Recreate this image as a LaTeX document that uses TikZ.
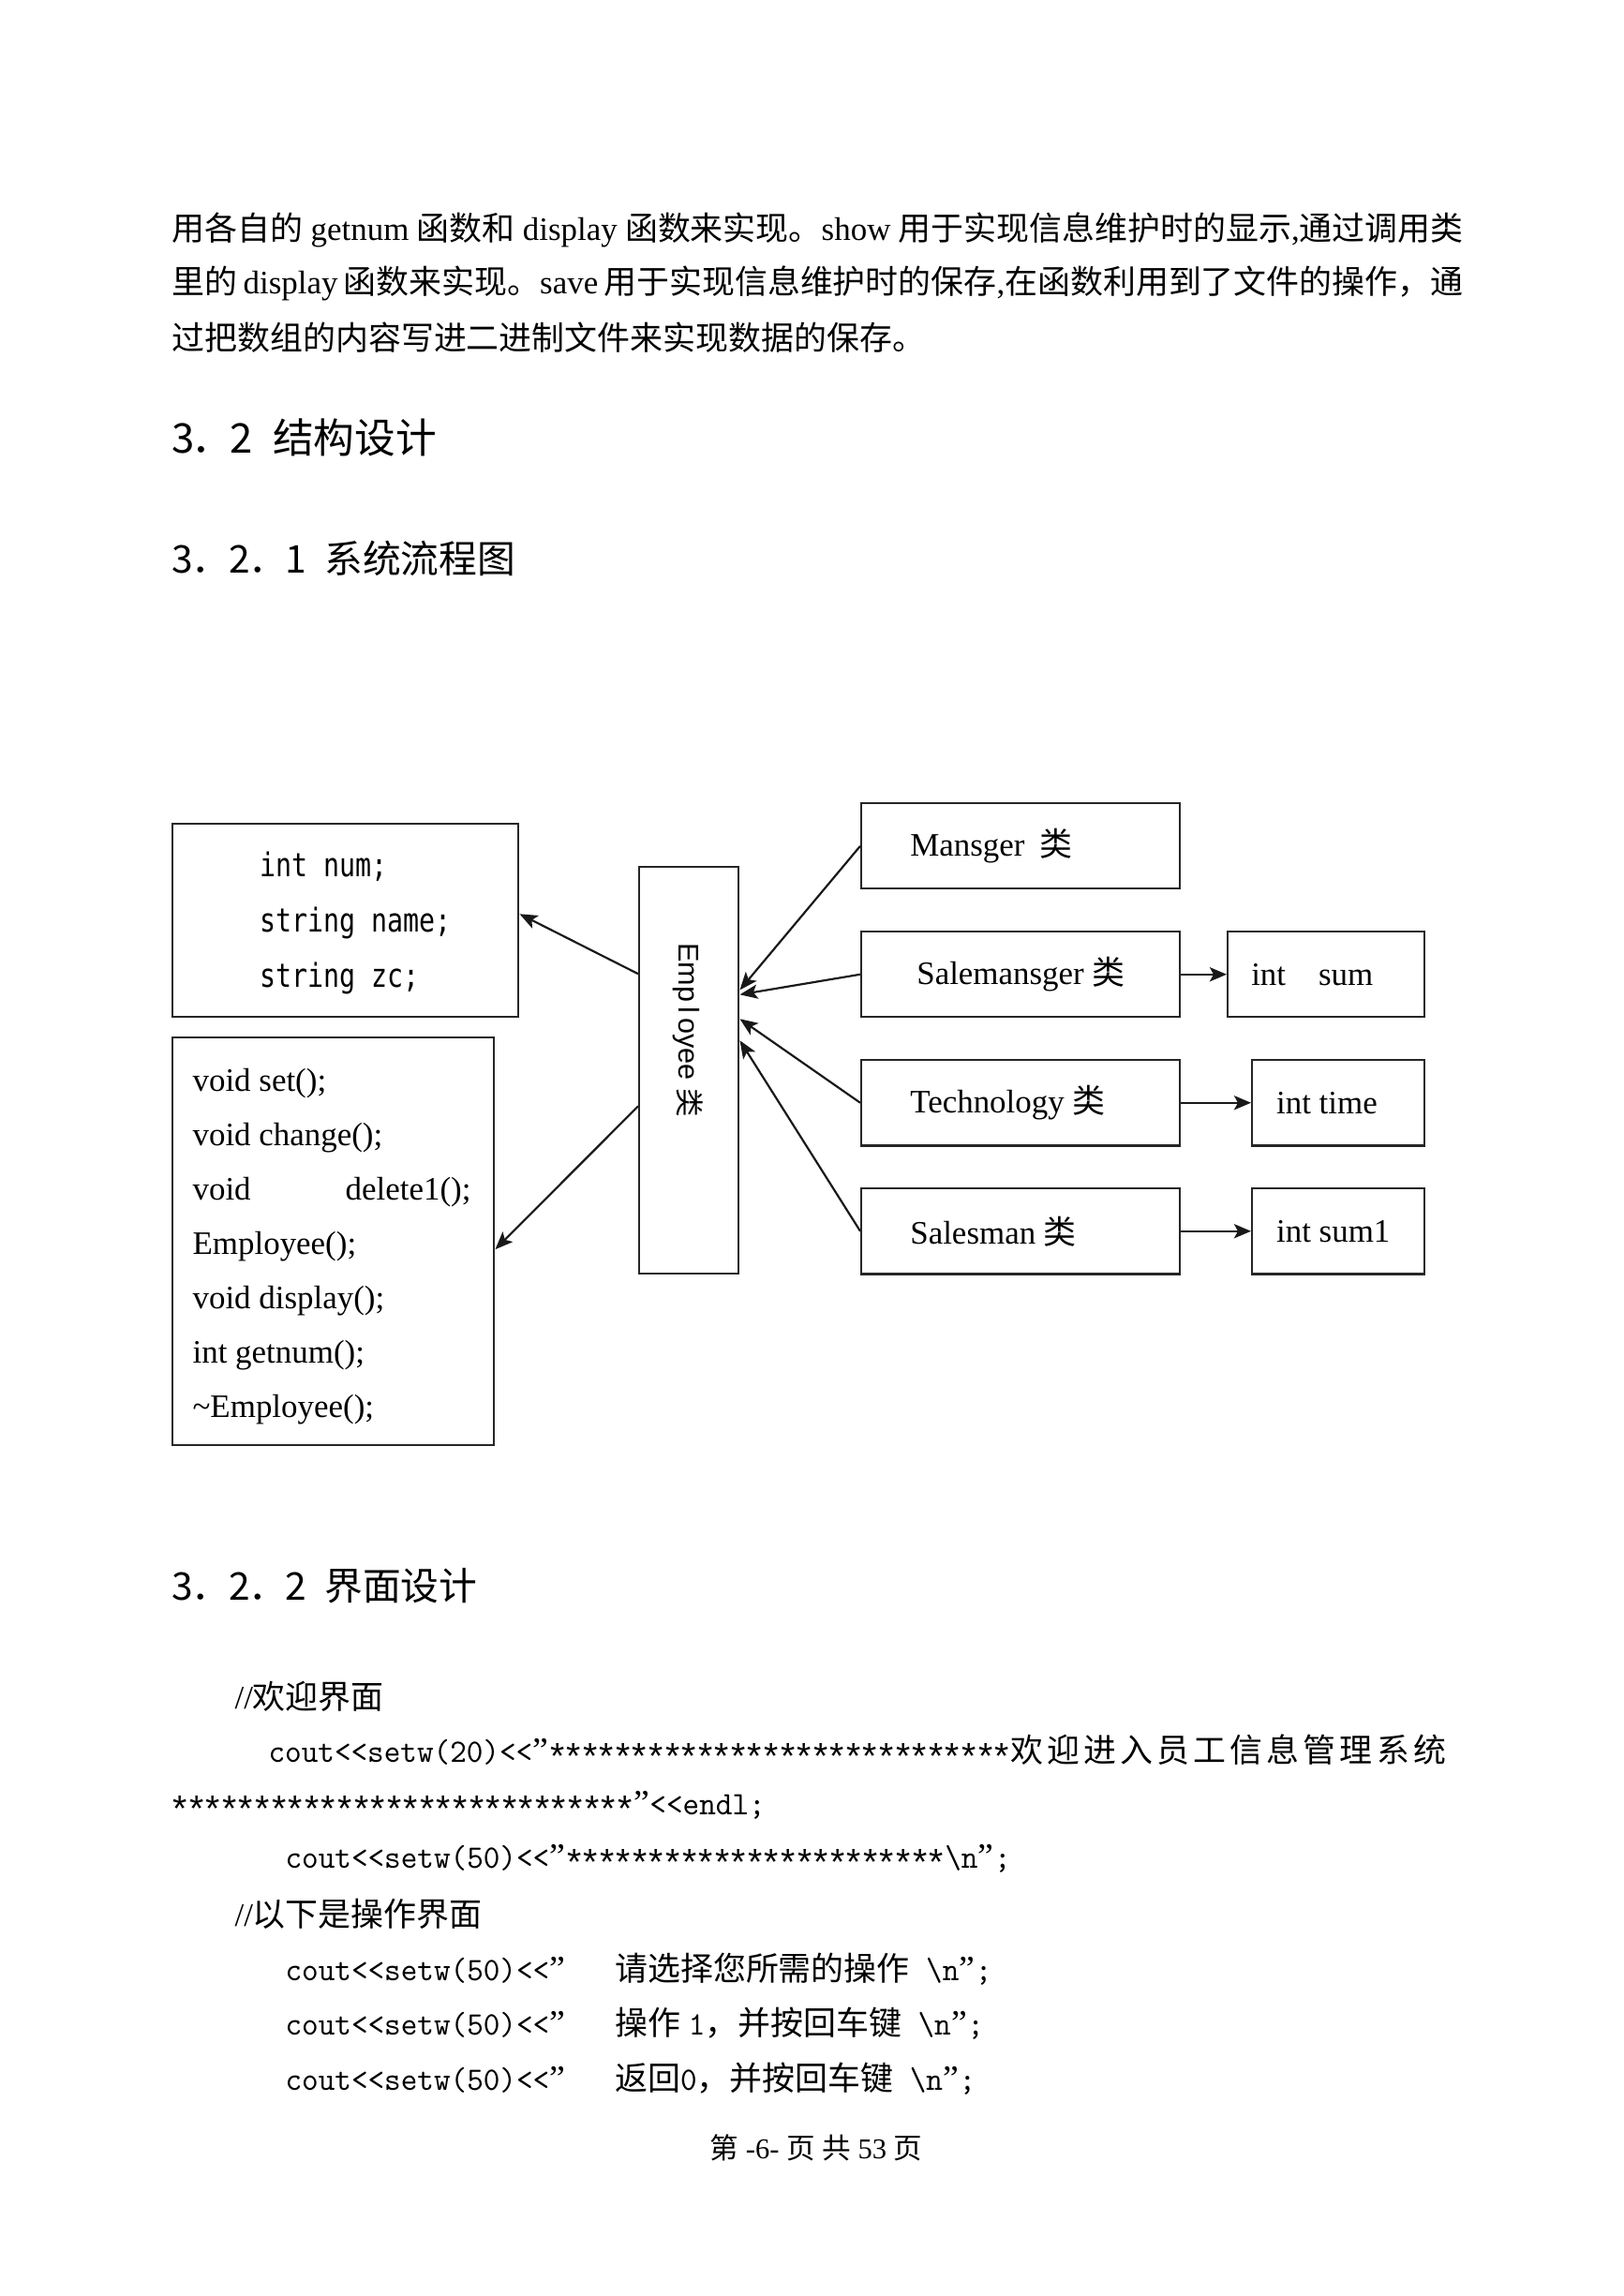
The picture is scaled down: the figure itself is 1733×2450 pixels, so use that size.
\documentclass[tikz,border=0pt]{standalone}
\usepackage{fontspec}
\setmainfont{Liberation Serif}
\newfontfamily\cjk{Noto Sans CJK SC}
\newfontfamily\codef[Extension=.otf,FakeStretch=0.96]{lmmono10-regular}
\newfontfamily\boxmono[FakeStretch=0.81]{DejaVu Sans Mono}
\newfontfamily\sansf{Liberation Sans}
\usetikzlibrary{arrows.meta}
\XeTeXlinebreaklocale "zh"
\XeTeXlinebreakskip=0pt plus 1pt
\newcommand\zh[1]{{\cjk #1}}
\newcommand\dlt{<\kern0pt<}
\newcommand\dq{\makebox[6.04pt][c]{\rmfamily\fontsize{13pt}{13pt}\selectfont ”}}
\newcommand\st{\makebox[6.04pt]{\raisebox{-2.4pt}{\sansf\fontsize{13.5pt}{13.5pt}\selectfont *}}}
\newcommand\stars[1]{\foreach\i in {1,...,#1}{\st}}
\begin{document}
\begin{tikzpicture}[x=0.3435pt,y=-0.3435pt,
  box/.style={draw=black!85, line width=0.85pt, inner sep=0pt, anchor=north west},
  txt/.style={inner sep=0pt, anchor=west, font=\fontsize{12pt}{14pt}\selectfont},
  code/.style={inner sep=0pt, anchor=west, font=\codef\fontsize{12pt}{14pt}\selectfont},
  head/.style={inner sep=0pt, anchor=west},
  arr/.style={draw=black!90, line width=0.75pt, -{Stealth[length=6.5pt,width=5.2pt,inset=1.5pt]}},
  rarr/.style={draw=black!90, line width=0.85pt, -{Stealth[length=6.2pt,width=5.2pt,inset=1.4pt]}}]
\fill[white] (0,0) rectangle (1733,2450);
\useasboundingbox (0,0) rectangle (1733,2450);

% paragraph
\node[txt] (p1) at (183,245) {\makebox[473.3pt][s]{\zh{用各自的} getnum \zh{函数和} display \zh{函数来实现。}show \zh{用于实现信息维护时的显示},\zh{通过调用类}}};
\node[txt] (p2) at (183,302) {\makebox[473.3pt][s]{\zh{里的} display \zh{函数来实现。}save \zh{用于实现信息维护时的保存},\zh{在函数利用到了文件的操作，通}}};
\node[txt] (p3) at (183,360) {\zh{过把数组的内容写进二进制文件来实现数据的保存。}};

% headings
\node[head] (h1) at (183,467) {\cjk\fontsize{15pt}{18pt}\selectfont 3\kern-1pt．\kern-1pt2\hspace{4pt} 结构设计};
\node[head] (h2) at (183,596) {\cjk\fontsize{14pt}{17pt}\selectfont 3\kern-0.5pt．\kern-0.5pt2\kern-0.5pt．\kern-0.5pt1\hspace{3.5pt} 系统流程图};
\node[head] (h3) at (183,1692) {\cjk\fontsize{14pt}{17pt}\selectfont 3\kern-0.5pt．\kern-0.5pt2\kern-0.5pt．\kern-0.5pt2\hspace{3.5pt} 界面设计};

% diagram boxes
\node[box, minimum width=126.75pt, minimum height=70.76pt] (A) at (183,878) {};
\node[txt, align=left, font=\boxmono\fontsize{12pt}{20.4pt}\selectfont] (Atext) at (277,985) {int num;\\string name;\\string zc;};

\node[box, minimum width=117.82pt, minimum height=149.42pt] (B) at (183,1106) {};
\node[txt, align=left, font=\fontsize{12pt}{19.9pt}\selectfont] (Btext) at (205,1330) {void set();\\void change();\\\makebox[102pt][s]{void\hfill delete1();}\\Employee();\\void display();\\int getnum();\\\textasciitilde Employee();};

\node[box, minimum width=36.41pt, minimum height=149.08pt] (emp) at (681,924) {};
\node[inner sep=0pt, rotate=-90, font=\sansf\fontsize{10.5pt}{12pt}\selectfont] (emptext) at (734,1099) {Emp\hspace{1.8pt}l\hspace{1.8pt}oyee \zh{类}};

\node[box, minimum width=116.79pt, minimum height=31.26pt, font=\fontsize{12pt}{14pt}\selectfont] (man) at (918,856) {\makebox[116.79pt][l]{\hspace*{17.9pt}Mansger\hspace{5.5pt}\zh{类}}};
\node[box, minimum width=116.79pt, minimum height=31.26pt, font=\fontsize{12pt}{14pt}\selectfont] (sm) at (918,993) {\makebox[116.79pt][l]{\hspace*{20.3pt}Salemansger \zh{类}}};
\node[box, minimum width=116.79pt, minimum height=31.26pt, font=\fontsize{12pt}{14pt}\selectfont] (tech) at (918,1130) {\makebox[116.79pt][l]{\hspace*{17.9pt}Technology \zh{类}}};
\node[box, minimum width=116.79pt, minimum height=31.26pt, font=\fontsize{12pt}{14pt}\selectfont] (sales) at (918,1267) {\makebox[116.79pt][l]{\hspace*{17.9pt}Salesman \zh{类}}};

\node[box, minimum width=72.14pt, minimum height=31.26pt, font=\fontsize{12pt}{14pt}\selectfont] (isum) at (1309,993) {\makebox[72.14pt][l]{\hspace*{8.6pt}int\hspace{12pt}sum}};
\node[box, minimum width=63.2pt, minimum height=31.26pt, font=\fontsize{12pt}{14pt}\selectfont] (itime) at (1335,1130) {\makebox[63.2pt][l]{\hspace*{8.9pt}int time}};
\node[box, minimum width=63.2pt, minimum height=31.26pt, font=\fontsize{12pt}{14pt}\selectfont] (isum1) at (1335,1267) {\makebox[63.2pt][l]{\hspace*{8.9pt}int sum1}};

% connectors
\draw[arr] ([yshift=35.4pt]emp.west) -- ([yshift=2.4pt]A.east);
\draw[arr] ([yshift=-13.1pt]emp.west) -- ([yshift=-2.9pt]B.east);
\draw[arr] (man.west) -- ([yshift=29.5pt]emp.east);
\draw[arr] (sm.west) -- ([yshift=27.8pt]emp.east);
\draw[arr] (tech.west) -- ([yshift=18.9pt]emp.east);
\draw[arr] (sales.west) -- ([yshift=11pt]emp.east);
\draw[rarr] (sm.east) -- (isum.west);
\draw[rarr] (tech.east) -- (itime.west);
\draw[rarr] (sales.east) -- (isum1.west);

% code
\node[txt] (c0) at (250,1810) {//\zh{欢迎界面}};
\node[code] (c1) at (286,1869) {cout\dlt setw(20)\dlt\dq\stars{28}\makebox[159.7pt][l]{\cjk 欢\hfill 迎\hfill 进\hfill 入\hfill 员\hfill 工\hfill 信\hfill 息\hfill 管\hfill 理\hfill 系\hfill 统}};
\node[code] (c2) at (183,1927) {\stars{28}\dq\dlt endl;};
\node[code] (c3) at (304,1984) {cout\dlt setw(50)\dlt\dq\stars{23}\textbackslash n\dq;};
\node[txt] (c4) at (250,2042) {//\zh{以下是操作界面}};
\node[code] (c5) at (304,2101) {cout\dlt setw(50)\dlt\dq\hspace{18pt}\zh{请选择您所需的操作}\hspace{6pt}\textbackslash n\dq;};
\node[code] (c6) at (304,2159) {cout\dlt setw(50)\dlt\dq\hspace{18pt}\zh{操作}\hspace{3pt}1\zh{，并按回车键}\hspace{6pt}\textbackslash n\dq;};
\node[code] (c7) at (304,2218) {cout\dlt setw(50)\dlt\dq\hspace{18pt}\zh{返回}0\zh{，并按回车键}\hspace{6pt}\textbackslash n\dq;};

% footer
\node[inner sep=0pt, font=\fontsize{10.5pt}{12pt}\selectfont] (foot) at (871,2292) {\zh{第} -6- \zh{页} \zh{共} 53 \zh{页}};
\end{tikzpicture}
\end{document}
